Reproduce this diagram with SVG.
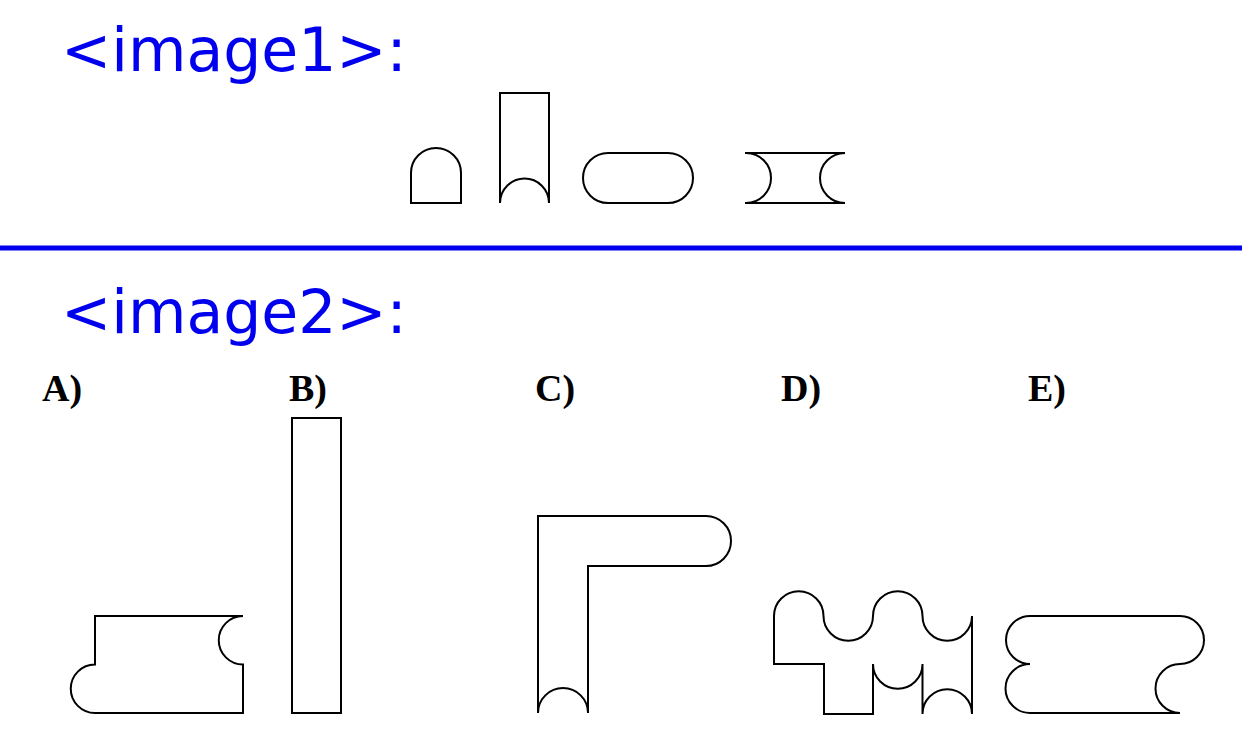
<svg xmlns="http://www.w3.org/2000/svg" width="1242" height="743" viewBox="0 0 1242 743">
<style>
.sh{fill:none;stroke:#000;stroke-width:2;stroke-linejoin:miter}
.hd{font-family:"DejaVu Sans",sans-serif;font-size:60px;fill:#0000ee}
.lb{font-family:"Liberation Serif",serif;font-weight:bold;font-size:38px;fill:#000}
</style>
<rect width="1242" height="743" fill="#fff"/>
<text class="hd" x="61" y="71">&lt;image1&gt;:</text>
<line x1="0" y1="248" x2="1242" y2="248" stroke="#0000ee" stroke-width="5"/>
<text class="hd" x="61" y="333">&lt;image2&gt;:</text>
<g id="image1">
<path id="s1" class="sh" d="M411,203 V173 A25,25 0 0 1 461,173 V203 Z"/>
<path id="s2" class="sh" d="M500,203 V93 H549 V203 A24.5,24.5 0 0 0 500,203"/>
<rect id="s3" class="sh" x="583" y="153" width="110" height="50" rx="25" ry="25"/>
<path id="s4" class="sh" d="M745,153 H845 M745,203 H845 M746,153 A25,25 0 0 1 746,203 M845,153 A25,25 0 0 0 845,203"/>
</g>
<g id="labels">
<text class="lb" x="42" y="401">A)</text>
<text class="lb" x="289" y="401">B)</text>
<text class="lb" x="535" y="401">C)</text>
<text class="lb" x="781" y="401">D)</text>
<text class="lb" x="1028" y="401">E)</text>
</g>
<g id="optA"><path class="sh" d="M95,616 H243 A24.25,24.25 0 0 0 243,664.5 V713 H95 A24.25,24.25 0 0 1 95,664.5 Z"/></g>
<g id="optB"><rect class="sh" x="292" y="418" width="49" height="295"/></g>
<g id="optC"><path class="sh" d="M538,713 V516 H706 A25,25 0 0 1 706,566 H588 V713 A25,25 0 0 0 538,713"/></g>
<g id="optD"><path class="sh" d="M774,616 A24.75,24.75 0 0 1 823.5,616 A24.75,24.75 0 0 0 873,616 A24.75,24.75 0 0 1 922.5,616 A24.75,24.75 0 0 0 972,616 V714 A24.75,24.75 0 0 0 922.5,714 V664 A24.75,24.75 0 0 1 873,664 V714 H824 V664 H774 Z"/></g>
<g id="optE"><path class="sh" d="M1030,616 H1180 A24,24 0 0 1 1180,664 A24.5,24.5 0 0 0 1180,713 H1030 A24.5,24.5 0 0 1 1030,664 A24,24 0 0 1 1030,616 Z"/></g>
<g id="connectors"></g>
</svg>
